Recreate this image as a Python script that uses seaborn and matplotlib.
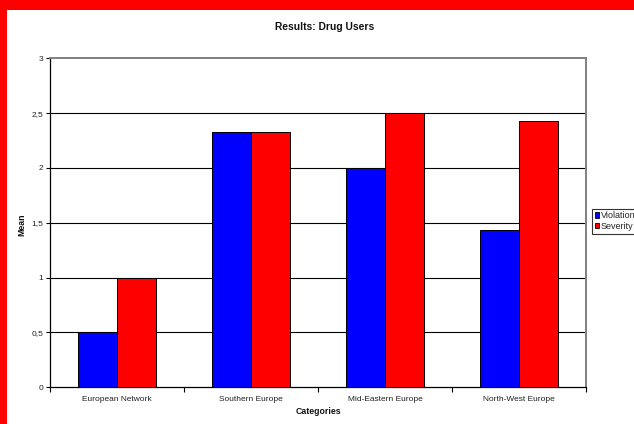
import matplotlib
matplotlib.use("Agg")
import matplotlib.pyplot as plt
import matplotlib.patches as mpatches
import seaborn as sns
import pandas as pd
import numpy as np

# Data
categories = ["European Network", "Southern Europe", "Mid-Eastern Europe", "North-West Europe"]
series = ["Violation", "Severity"]
violation = [0.5, 2.33, 2.0, 1.43]
severity = [1.0, 2.33, 2.5, 2.43]
y_ticks = [0, 0.5, 1, 1.5, 2, 2.5, 3]
y_tick_labels = ["0", "0,5", "1", "1,5", "2", "2,5", "3"]

df = pd.DataFrame({
    "Categories": categories * 2,
    "Series": [series[0]] * len(categories) + [series[1]] * len(categories),
    "Mean": violation + severity,
})

sns.set_theme(style="white")
plt.rcParams["font.family"] = ["Liberation Sans", "DejaVu Sans"]

W, H = 634, 424
fig = plt.figure(figsize=(W / 100, H / 100), dpi=100, facecolor="white")

# red frame strips (top and left)
fig.patches.append(mpatches.Rectangle((0, 1 - 10 / H), 1, 10 / H, transform=fig.transFigure,
                                      facecolor="#FF0000", edgecolor="none", zorder=0))
fig.patches.append(mpatches.Rectangle((0, 0), 7 / W, 1, transform=fig.transFigure,
                                      facecolor="#FF0000", edgecolor="none", zorder=0))

left, right, top, bottom = 50, 586, 58.3, 387.3
ax = fig.add_axes([left / W, 1 - bottom / H, (right - left) / W, (bottom - top) / H])
ax.set_facecolor("white")

palette = {"Violation": "#0000FF", "Severity": "#FF0000"}
sns.barplot(data=df, x="Categories", y="Mean", hue="Series", palette=palette,
            width=0.575, gap=0, edgecolor="black", linewidth=0.7, saturation=1,
            errorbar=None, ax=ax, zorder=3, legend=False)

ax.set_xlim(-0.5, len(categories) - 0.5)
ax.set_ylim(0, 3)
ax.set_yticks(y_ticks)
ax.set_yticklabels(y_tick_labels)
for y in y_ticks[1:-1]:
    ax.axhline(y, color="black", linewidth=0.8, zorder=1)

ax.set_xlabel("")
ax.set_ylabel("")
ax.tick_params(axis="y", which="major", direction="out", length=3, width=0.8, color="black",
               labelsize=6, pad=2, labelcolor="#222222", left=True)
ax.tick_params(axis="x", which="major", length=0, labelsize=6, pad=6, labelcolor="#222222")
ax.set_xticks(np.arange(-0.5, len(categories), 1.0), minor=True)
ax.tick_params(axis="x", which="minor", direction="out", length=3.5, width=0.8, color="black",
               bottom=True)

for s in ["left", "bottom"]:
    ax.spines[s].set_color("black")
    ax.spines[s].set_linewidth(0.9)
for s in ["top", "right"]:
    ax.spines[s].set_color("#808080")
    ax.spines[s].set_linewidth(1.4)

fig.text(325 / W, 1 - 27 / H, "Results: Drug Users", ha="center", va="center",
         fontsize=7.4, fontweight="bold", color="#111111")
fig.text(22 / W, 1 - 225 / H, "Mean", ha="center", va="center", rotation=90,
         fontsize=6.3, fontweight="bold", color="#111111")
fig.text(318 / W, 1 - 411 / H, "Categories", ha="center", va="center",
         fontsize=6.3, fontweight="bold", color="#111111")

handles = [mpatches.Patch(facecolor=palette[s], edgecolor="black", linewidth=0.6, label=s)
           for s in series]
leg = fig.legend(handles=handles, loc="upper left", bbox_to_anchor=(592 / W, 1 - 208.5 / H),
                 fontsize=6.5, handlelength=0.5, handleheight=0.5, handletextpad=0.15,
                 borderpad=0.3, labelspacing=0.2, borderaxespad=0, fancybox=False,
                 frameon=True, edgecolor="black")
leg.get_frame().set_linewidth(0.8)

fig.savefig("out.png", dpi=100, facecolor="white")
